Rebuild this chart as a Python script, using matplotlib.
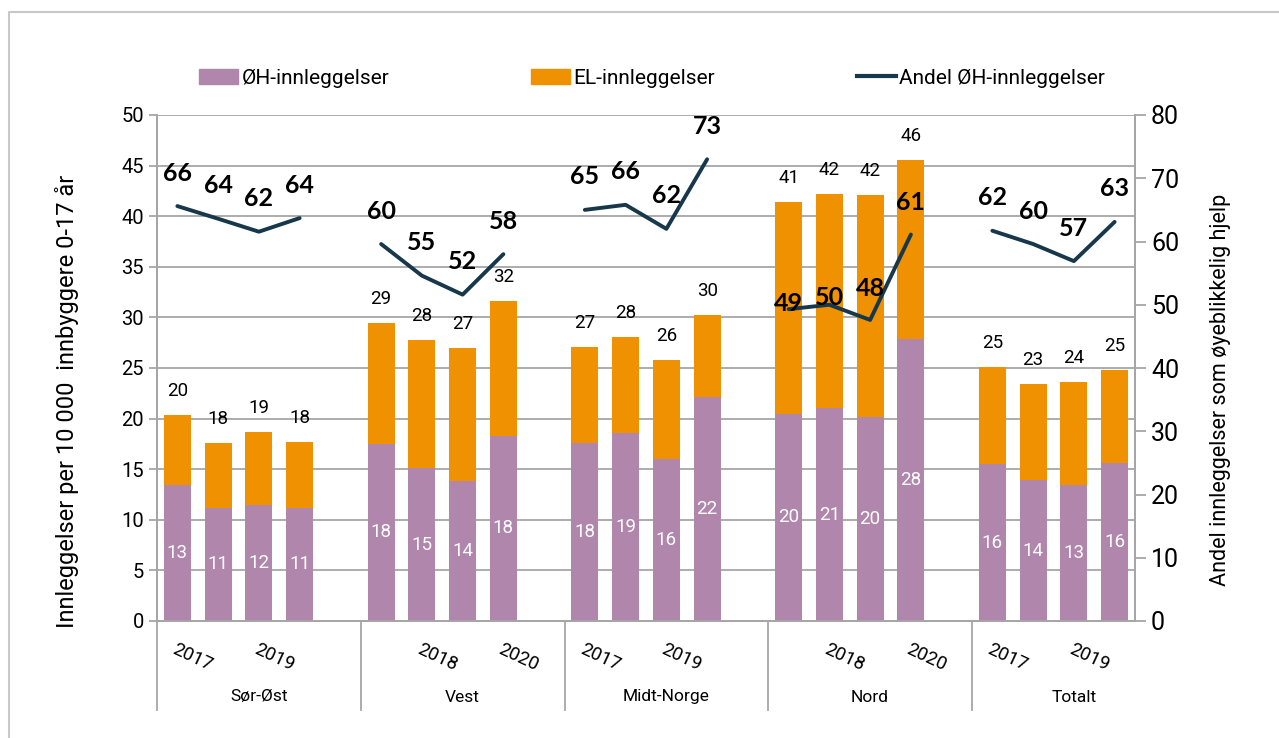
import numpy as np
import matplotlib
matplotlib.use("Agg")
import matplotlib.pyplot as plt
from matplotlib.lines import Line2D
from matplotlib.patches import Patch

#=== Daten ===
regioner = ["Sør-Øst", "Vest", "Midt-Norge", "Nord", "Totalt"]
aar = ["2017", "2018", "2019", "2020"]

oh_innl = [[13.4, 11.2, 11.5, 11.2],
           [17.5, 15.1, 13.8, 18.3],
           [17.6, 18.6, 16.0, 22.1],
           [20.5, 21.0, 20.2, 27.9],
           [15.5, 13.9, 13.4, 15.6]]

totalt_innl = [[20.4, 17.6, 18.7, 17.7],
               [29.4, 27.8, 27.0, 31.6],
               [27.1, 28.1, 25.8, 30.2],
               [41.4, 42.2, 42.1, 45.6],
               [25.1, 23.4, 23.6, 24.8]]

andel_oh = [[65.6, 63.6, 61.55, 63.7],
            [59.6, 54.6, 51.6, 58.0],
            [65.0, 65.8, 62.0, 73.0],
            [49.3, 50.0, 47.6, 61.1],
            [61.7, 59.6, 56.9, 63.1]]

# label offset (pixels above point) for the line labels
label_offset = [[33, 33, 33, 33],
                [33, 33, 33, 33],
                [33, 33, 33, 33],
                [6, 7, 31, 32],
                [33, 33, 33, 33]]

farge_oh = "#B086AC"
farge_el = "#EF9100"
farge_linje = "#17384A"
grå = "#A6A6A6"

plt.rcParams['font.family'] = ['Roboto', 'DejaVu Sans']

fig = plt.figure(figsize=(12.79, 7.38), dpi=100)
ax = fig.add_axes([157/1279, 1-621/738, (1135-157)/1279, (621-115)/738])
ax2 = ax.twinx()

#=== Balken + Linie ===
for g, reg in enumerate(regioner):
    x = np.arange(4) + g*5
    oh = np.array(oh_innl[g])
    tot = np.array(totalt_innl[g])
    el = tot - oh
    ax.bar(x, oh, width=0.66, color=farge_oh, zorder=3)
    ax.bar(x, el, bottom=oh, width=0.66, color=farge_el, zorder=3)
    for xi, o, t in zip(x, oh, tot):
        ax.text(xi, o/2, f"{round(o):d}", ha='center', va='center',
                color='white', fontsize=13.5, zorder=4)
        ax.annotate(f"{round(t):d}", (xi, t), xytext=(0, 24), textcoords='offset pixels',
                    ha='center', va='center', fontsize=13.5, color='black', zorder=4)
    ax2.plot(x, andel_oh[g], color=farge_linje, lw=2.8, zorder=5, solid_capstyle='round')
    for xi, a, off in zip(x, andel_oh[g], label_offset[g]):
        ax2.annotate(f"{round(a):d}", (xi, a), xytext=(0, off), textcoords='offset pixels',
                     ha='center', va='center', fontsize=18, fontweight='bold',
                     family=['Lato', 'DejaVu Sans'], color='black', zorder=6)

#=== Achsen ===
ax.set_xlim(-0.5, 23.5)
ax.set_ylim(0, 50)
ax.set_yticks(np.arange(0, 51, 5))
ax2.set_ylim(0, 80)
ax2.set_yticks(np.arange(0, 81, 10))
ax.yaxis.grid(True, color=grå, lw=1.3)
ax.set_axisbelow(True)
ax.tick_params(axis='y', labelsize=14.5, length=6, color=grå, width=1.3)
ax2.tick_params(axis='y', labelsize=18, length=8, color=grå, width=1.3)
ax.set_xticks([])
for a in (ax, ax2):
    a.spines['top'].set_visible(False)
    for s in ('left', 'right', 'bottom'):
        a.spines[s].set_color(grå)
        a.spines[s].set_linewidth(1.3)

ax.set_ylabel("Innleggelser per 10 000  innbyggere 0-17 år", fontsize=17, labelpad=30, y=0.435)
ax2.set_ylabel("Andel innleggelser som øyeblikkelig hjelp", fontsize=15.5, labelpad=22, y=0.457)

#=== Kategorie-Achse ===
trans = ax.get_xaxis_transform()
for g, reg in enumerate(regioner):
    for j, yr in enumerate(aar):
        slot = g*5 + j
        if slot % 2 == 0:
            ax.text(slot, -19/506, yr, transform=trans, rotation=-25, rotation_mode='anchor',
                    ha='left', va='top', fontsize=13.5)
    ax.text(g*5 + 2, -76/506, reg, transform=trans, ha='center', va='center', fontsize=12.5)
    ax.plot([g*5 - 0.5, g*5 - 0.5], [0, -89/506], transform=trans, color=grå, lw=1.3,
            clip_on=False)

#=== Legende ===
handles = [Patch(color=farge_oh, label="ØH-innleggelser"),
           Patch(color=farge_el, label="EL-innleggelser"),
           Line2D([], [], color=farge_linje, lw=3, label="Andel ØH-innleggelser")]
fig.legend(handles=handles, loc='center', bbox_to_anchor=(652/1279, 1-78/738), ncol=3,
           frameon=False, fontsize=15, columnspacing=6.8, handlelength=1.9,
           handleheight=0.7, handletextpad=0.15)

#=== Rahmen ===
fig.add_artist(Line2D([9/1279, 9/1279, 1], [0, 1-12/738, 1-12/738],
                      transform=fig.transFigure, color="#C8C8C8", lw=1.5))

fig.savefig("out.png", dpi=100)
